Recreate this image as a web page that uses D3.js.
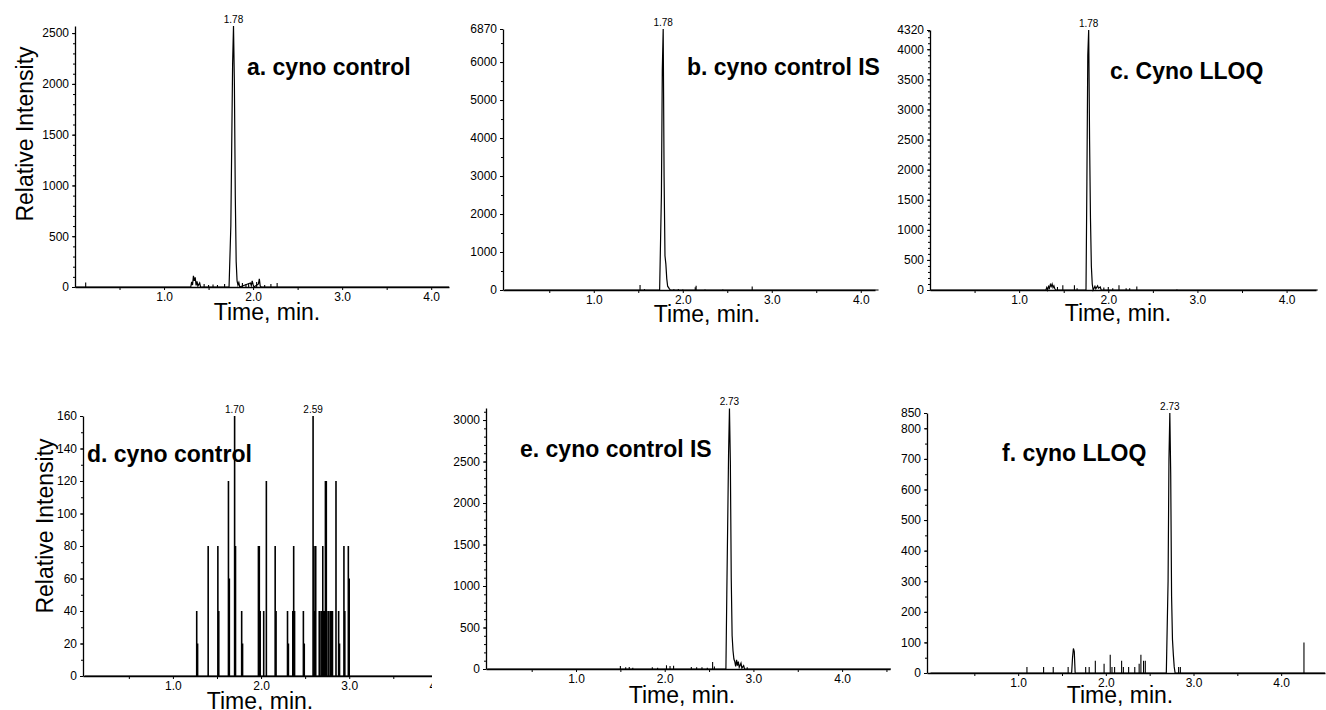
<!DOCTYPE html>
<html>
<head>
<meta charset="utf-8">
<script src="https://cdnjs.cloudflare.com/ajax/libs/d3/7.8.5/d3.min.js"></script>
<style>
body { margin: 0; background: #fff; }
svg { display: block; font-family: "Liberation Sans", Arial, Helvetica, sans-serif; }
</style>
</head>
<body>
<script>
// chromatogram traces [time (min), intensity] and narrow noise spikes [time, intensity]
const traceA = [[0,0],[1.30,0],[1.31,50],[1.32,20],[1.33,110],[1.34,60],[1.35,95],[1.36,15],[1.37,55],[1.38,10],[1.40,40],[1.41,0],
  [1.73,0],[1.75,600],[1.77,2200],[1.78,2570],[1.79,2000],[1.80,900],[1.81,250],[1.82,60],[1.83,20],[1.84,45],[1.85,0],
  [1.97,40],[1.98,15],[1.99,60],[2.00,25],[2.01,0],[2.06,30],[2.07,80],[2.08,10],[2.09,0],[4.2,0]]
const spikesA = [[0.12,45],[1.45,30],[1.50,20],[1.55,25],[1.60,20],[1.68,30],[1.88,40],[1.92,30],[1.95,35],[2.04,50],[2.13,20],[2.20,30],[2.27,40]]

const traceB = [[0,0],[1.74,0],[1.76,2500],[1.77,5800],[1.78,6870],[1.79,3000],[1.80,900],[1.81,680],[1.82,300],[1.83,100],[1.85,30],[1.86,0],[4.2,0]]
const spikesB = [[1.52,130],[1.57,25],[1.90,20],[1.95,25],[2.00,15],[2.14,70],[2.15,110],[2.25,15],[2.45,10],[2.78,90]]

const traceC = [[0,0],[1.30,0],[1.31,40],[1.32,0],[1.33,60],[1.34,30],[1.35,90],[1.36,60],[1.37,100],[1.38,40],[1.39,70],[1.40,20],[1.41,0],
  [1.75,0],[1.76,1800],[1.77,3900],[1.78,4320],[1.79,2500],[1.80,1200],[1.81,400],[1.82,100],[1.83,0],
  [1.85,60],[1.86,20],[1.88,70],[1.89,30],[1.91,50],[1.92,0],[4.35,0]]
const spikesC = [[1.43,50],[1.49,80],[1.62,80],[1.65,30],[1.95,40],[2.00,50],[2.05,30],[2.12,80],[2.20,30],[2.24,30],[2.32,60],[2.77,10]]

const traceD = [[0,0],[4.2,0]]
const spikesD = [[1.27,40],[1.28,20],[1.40,80],[1.51,80],[1.52,40],[1.63,120],[1.64,60],[1.70,160],[1.71,80],[1.78,40],[1.79,20],
  [1.97,80],[1.98,80],[1.99,40],[2.03,40],[2.06,120],[2.16,80],[2.17,40],[2.30,40],[2.31,20],[2.36,40],[2.37,80],[2.38,40],
  [2.48,40],[2.49,20],[2.59,160],[2.60,80],[2.61,40],[2.62,80],[2.66,40],[2.68,40],[2.69,40],[2.70,80],[2.71,40],[2.72,40],
  [2.73,120],[2.74,120],[2.76,40],[2.77,40],[2.79,40],[2.80,40],[2.81,40],[2.85,120],[2.88,40],[2.89,20],[2.94,80],[2.95,40],[2.99,80],[3.00,60]]

const traceE = [[0,0],[2.69,0],[2.70,900],[2.72,2600],[2.73,3140],[2.74,2500],[2.75,1100],[2.76,400],[2.77,220],[2.78,120],[2.79,90],
  [2.80,30],[2.81,110],[2.82,40],[2.83,90],[2.84,20],[2.86,70],[2.87,10],[2.89,40],[2.90,0],[4.55,0]]
const spikesE = [[1.50,35],[1.56,20],[1.60,25],[1.64,15],[1.86,20],[1.92,15],[2.02,45],[2.06,35],[2.10,40],[2.30,25],[2.36,20],[2.42,20],[2.48,15],[2.54,85],[2.56,30],[2.93,20]]

const traceF = [[0,0],[1.61,0],[1.62,50],[1.63,80],[1.64,70],[1.65,0],[2.69,0],[2.71,300],[2.72,700],[2.73,850],[2.74,650],[2.75,250],[2.76,110],[2.77,60],[2.78,20],[2.79,0],[4.5,0]]
const spikesF = [[1.10,20],[1.29,20],[1.40,20],[1.57,20],[1.77,20],[1.81,20],[1.88,40],[1.98,30],[2.05,60],[2.07,20],[2.10,20],[2.18,40],
  [2.20,20],[2.26,20],[2.33,20],[2.38,30],[2.40,60],[2.43,40],[2.45,40],[2.83,20],[2.85,20],[4.26,100]]

// labelled peaks [time, intensity]
const peaksA = [[1.78,2570]]
const peaksB = [[1.78,6870]]
const peaksC = [[1.78,4320]]
const peaksD = [[1.70,160],[2.59,160]]
const peaksE = [[2.73,3140]]
const peaksF = [[2.73,850]]

const titles = ['a. cyno control','b. cyno control IS','c. Cyno LLOQ','d. cyno control','e. cyno control IS','f. cyno LLOQ']
const xTicks = [1.0,2.0,3.0,4.0]
const yTicksA = [0,500,1000,1500,2000,2500]
const yTicksB = [0,1000,2000,3000,4000,5000,6000,6870]
const yTicksC = [0,500,1000,1500,2000,2500,3000,3500,4000,4320]
const yTicksD = [0,20,40,60,80,100,120,140,160]
const yTicksE = [0,500,1000,1500,2000,2500,3000]
const yTicksF = [0,100,200,300,400,500,600,700,800,850]

// layout of each panel
const panels = [
  {trace: traceA, spikes: spikesA, peaks: peaksA, yTicks: yTicksA, yMax: 2570, yMinor: 100, x0: 0, x1: 4.2, l: 75, r: 449, t: 26, b: 287, title: [247,75], xlab: [267,320], ylab: [33,134]},
  {trace: traceB, spikes: spikesB, peaks: peaksB, yTicks: yTicksB, yMax: 6870, yMinor: 500, x0: -0.02, x1: 4.16, l: 503, r: 875, t: 29, b: 290, title: [687,75], xlab: [707,322]},
  {trace: traceC, spikes: spikesC, peaks: peaksC, yTicks: yTicksC, yMax: 4320, yMinor: 100, x0: 0, x1: 4.33, l: 930, r: 1316, t: 30, b: 290, title: [1110,79], xlab: [1118,321]},
  {trace: traceD, spikes: spikesD, peaks: peaksD, yTicks: yTicksD, yMax: 160, yMinor: 10, x0: -0.02, x1: 4.2, l: 83, r: 455, t: 416, b: 676, title: [87,462], xlab: [260,709], ylab: [53,526], clip: 432, stick: 1.6},
  {trace: traceE, spikes: spikesE, peaks: peaksE, yTicks: yTicksE, yMax: 3145, yMinor: 100, x0: -0.015, x1: 4.54, l: 486, r: 890, t: 408, b: 669, title: [520,457], xlab: [682,703]},
  {trace: traceF, spikes: spikesF, peaks: peaksF, yTicks: yTicksF, yMax: 850, yMinor: 50, x0: -0.04, x1: 4.5, l: 927, r: 1325, t: 413, b: 673, title: [1002,461], xlab: [1120,703]}
]

const svg = d3.select('body').append('svg').attr('width',1326).attr('height',710)

panels.forEach((p,i) => {
  let g = svg.append('g')
  if (p.clip) {
    svg.append('clipPath').attr('id','clip'+i).append('rect').attr('x',0).attr('y',0).attr('width',p.clip).attr('height',710)
    g.attr('clip-path','url(#clip'+i+')')
  }
  const x = d3.scaleLinear().domain([p.x0,p.x1]).range([p.l,p.r])
  const y = d3.scaleLinear().domain([0,p.yMax]).range([p.b,p.t])

  // minor ticks
  g.append('g').attr('transform','translate(0,'+p.b+')')
    .call(d3.axisBottom(x).tickValues(d3.range(0.5,p.x1,1)).tickSize(3).tickFormat(''))
    .call(a => a.select('.domain').remove())
  g.append('g').attr('transform','translate('+p.l+',0)')
    .call(d3.axisLeft(y).tickValues(d3.range(0,p.yMax,p.yMinor)).tickSize(2).tickFormat(''))
    .call(a => a.select('.domain').remove())

  const xAxis = g.append('g').attr('transform','translate(0,'+p.b+')')
    .call(d3.axisBottom(x).tickValues(xTicks).tickFormat(d3.format('.1f')).tickSize(3).tickPadding(2).tickSizeOuter(0))
  const yAxis = g.append('g').attr('transform','translate('+p.l+',0)')
    .call(d3.axisLeft(y).tickValues(p.yTicks).tickFormat(d3.format('d')).tickSize(3).tickPadding(3).tickSizeOuter(0))
  ;[xAxis,yAxis].forEach(a => {
    a.attr('font-family',null).attr('font-size',12)
    a.select('.domain').attr('stroke-width',1.3)
    a.selectAll('text').attr('fill','#000')
  })
  g.selectAll('.tick line').attr('stroke','#000')

  const line = d3.line().x(d => x(d[0])).y(d => y(d[1]))
  g.append('path').datum(p.trace).attr('d',line).attr('fill','none').attr('stroke','#000').attr('stroke-width',1.2)

  g.selectAll('line.spike').data(p.spikes).join('line').attr('class','spike')
    .attr('x1',d => x(d[0])).attr('x2',d => x(d[0]))
    .attr('y1',y(0)).attr('y2',d => y(d[1]))
    .attr('stroke','#000').attr('stroke-width',p.stick || 1.1)

  g.selectAll('text.peak').data(p.peaks).join('text').attr('class','peak')
    .attr('x',d => x(d[0])).attr('y',d => y(d[1]) - 3)
    .attr('text-anchor','middle').attr('font-size',10).text(d => d[0].toFixed(2))

  g.append('text').attr('x',p.title[0]).attr('y',p.title[1])
    .attr('font-size',23).attr('font-weight','bold').text(titles[i])

  g.append('text').attr('x',p.xlab[0]).attr('y',p.xlab[1]).attr('text-anchor','middle')
    .attr('font-size',23).text('Time, min.')

  if (p.ylab) {
    g.append('text').attr('transform','translate('+p.ylab[0]+','+p.ylab[1]+') rotate(-90)')
      .attr('text-anchor','middle').attr('font-size',23).text('Relative Intensity')
  }
})
</script>
</body>
</html>
